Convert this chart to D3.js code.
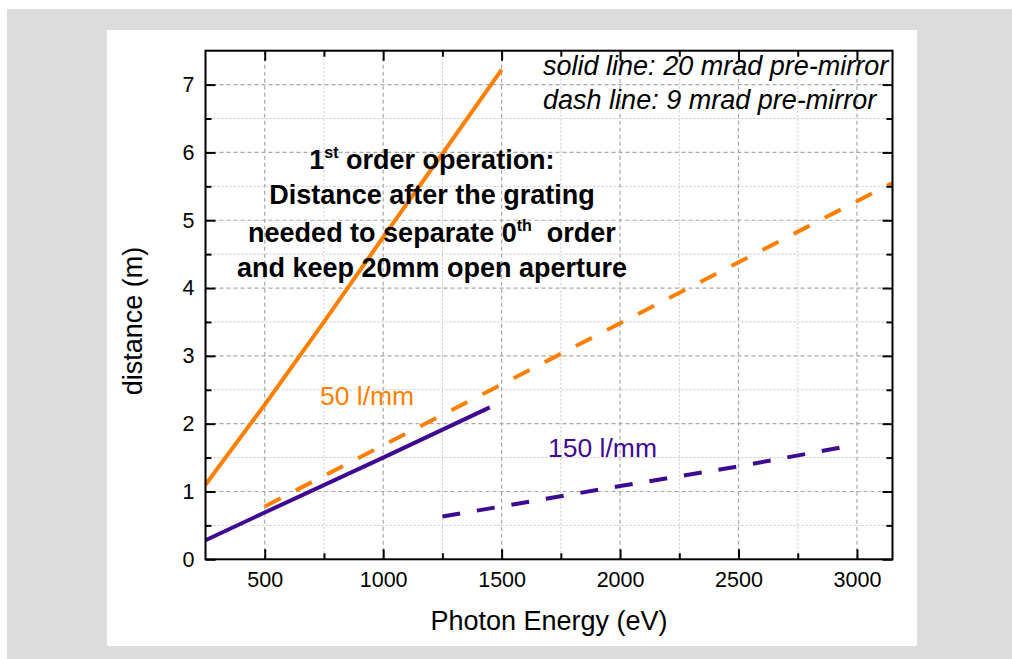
<!DOCTYPE html>
<html>
<head>
<meta charset="utf-8">
<script src="https://cdn.jsdelivr.net/npm/d3@7"></script>
<style>
  body { margin: 0; background: #fff; }
  text { font-family: "Liberation Sans", Arial, sans-serif; }
</style>
</head>
<body>
<div id="chart"></div>
<script>
// 50 l/mm grating, 20 mrad pre-mirror (solid)
const energy50Solid = [250, 500, 750, 1000, 1250, 1500];
const dist50Solid = [1.1, 2.28, 3.5, 4.75, 5.98, 7.22];
// 50 l/mm grating, 9 mrad pre-mirror (dashed)
const energy50Dash = [500, 1000, 1500, 2000, 2500, 3000, 3150];
const dist50Dash = [0.78, 1.68, 2.58, 3.48, 4.38, 5.28, 5.55];
// 150 l/mm grating, 20 mrad pre-mirror (solid)
const energy150Solid = [250, 500, 1000, 1450];
const dist150Solid = [0.28, 0.69, 1.5, 2.24];
// 150 l/mm grating, 9 mrad pre-mirror (dashed)
const energy150Dash = [1250, 1500, 2000, 2500, 2950];
const dist150Dash = [0.63, 0.78, 1.08, 1.37, 1.66];

const xTicks = [500, 1000, 1500, 2000, 2500, 3000];
const xMinorTicks = [750, 1250, 1750, 2250, 2750];
const yTicks = [0, 1, 2, 3, 4, 5, 6, 7];
const yMinorTicks = [0.5, 1.5, 2.5, 3.5, 4.5, 5.5, 6.5];

const orange = '#ff7f00';
const purple = '#3f0a92';

const W = 1012, H = 659;
const margin = { top: 50.7, right: 119.5, bottom: 99.7, left: 205.5 };
const width = W - margin.left - margin.right;
const height = H - margin.top - margin.bottom;

const svg = d3.select('#chart').append('svg')
    .attr('width', W)
    .attr('height', H);

// page background and white panel
svg.append('rect').attr('x', 7).attr('y', 9).attr('width', W - 7).attr('height', H - 9).attr('fill', '#dcdcdc');
svg.append('rect').attr('x', 107).attr('y', 30).attr('width', 810).attr('height', 616).attr('fill', '#fff');

const g = svg.append('g').attr('transform', `translate(${margin.left},${margin.top})`);

const x = d3.scaleLinear().domain([250, 3150]).range([0, width]);
const y = d3.scaleLinear().domain([0, 7.5]).range([height, 0]);

// grid
g.selectAll('.gx-minor').data(xMinorTicks).enter().append('line')
    .attr('x1', d => x(d)).attr('x2', d => x(d)).attr('y1', 0).attr('y2', height)
    .attr('stroke', '#c8c8c8').attr('stroke-width', 1).attr('stroke-dasharray', '2,2');
g.selectAll('.gy-minor').data(yMinorTicks).enter().append('line')
    .attr('y1', d => y(d)).attr('y2', d => y(d)).attr('x1', 0).attr('x2', width)
    .attr('stroke', '#c8c8c8').attr('stroke-width', 1).attr('stroke-dasharray', '2,2');
g.selectAll('.gx').data(xTicks).enter().append('line')
    .attr('x1', d => x(d)).attr('x2', d => x(d)).attr('y1', 0).attr('y2', height)
    .attr('stroke', '#a8a8a8').attr('stroke-width', 1.2).attr('stroke-dasharray', '4,3');
g.selectAll('.gy').data(yTicks.filter(d => d > 0)).enter().append('line')
    .attr('y1', d => y(d)).attr('y2', d => y(d)).attr('x1', 0).attr('x2', width)
    .attr('stroke', '#a8a8a8').attr('stroke-width', 1.2).attr('stroke-dasharray', '4,3');

// series
const line = d3.line().x(d => x(d[0])).y(d => y(d[1]));
const series = [
  { e: energy50Solid, v: dist50Solid, color: orange, dash: null },
  { e: energy50Dash, v: dist50Dash, color: orange, dash: '18,17' },
  { e: energy150Solid, v: dist150Solid, color: purple, dash: null },
  { e: energy150Dash, v: dist150Dash, color: purple, dash: '18,17' }
];
series.forEach(s => {
  g.append('path')
    .datum(d3.zip(s.e, s.v))
    .attr('d', line)
    .attr('fill', 'none')
    .attr('stroke', s.color)
    .attr('stroke-width', 4)
    .attr('stroke-dasharray', s.dash);
});

// axes with inward ticks
function styleAxis(sel) {
  sel.select('.domain').remove();
  sel.selectAll('line').attr('stroke', '#000').attr('stroke-width', 2);
  sel.selectAll('text').attr('font-size', 21.5).attr('fill', '#000')
    .attr('font-family', '"Liberation Sans", Arial, sans-serif');
}
g.append('g').attr('transform', `translate(0,${height})`)
    .call(d3.axisBottom(x).tickValues(xTicks).tickSizeInner(-10).tickSizeOuter(0).tickPadding(12).tickFormat(d3.format('d')))
    .call(styleAxis);
g.append('g').attr('transform', `translate(0,${height})`)
    .call(d3.axisBottom(x).tickValues(xMinorTicks).tickSize(-6).tickFormat(''))
    .call(styleAxis);
g.append('g')
    .call(d3.axisTop(x).tickValues(xTicks).tickSize(-10).tickFormat(''))
    .call(styleAxis);
g.append('g')
    .call(d3.axisTop(x).tickValues(xMinorTicks).tickSize(-6).tickFormat(''))
    .call(styleAxis);
g.append('g')
    .call(d3.axisLeft(y).tickValues(yTicks).tickSizeInner(-10).tickSizeOuter(0).tickPadding(11).tickFormat(d3.format('d')))
    .call(styleAxis);
g.append('g')
    .call(d3.axisLeft(y).tickValues(yMinorTicks).tickSize(-6).tickFormat(''))
    .call(styleAxis);
g.append('g').attr('transform', `translate(${width},0)`)
    .call(d3.axisRight(y).tickValues(yTicks).tickSize(-10).tickFormat(''))
    .call(styleAxis);
g.append('g').attr('transform', `translate(${width},0)`)
    .call(d3.axisRight(y).tickValues(yMinorTicks).tickSize(-6).tickFormat(''))
    .call(styleAxis);

// frame
g.append('rect').attr('width', width).attr('height', height)
    .attr('fill', 'none').attr('stroke', '#000').attr('stroke-width', 2);

// axis titles
svg.append('text')
    .attr('x', 549).attr('y', 630)
    .attr('text-anchor', 'middle').attr('font-size', 27)
    .text('Photon Energy (eV)');
svg.append('text')
    .attr('transform', `translate(142,${margin.top + height / 2 + 16}) rotate(-90)`)
    .attr('text-anchor', 'middle').attr('font-size', 27)
    .text('distance (m)');

// annotations
g.append('text').attr('x', x(1675)).attr('y', y(7.137))
    .attr('font-size', 27).attr('font-style', 'italic')
    .text('solid line: 20 mrad pre-mirror');
g.append('text').attr('x', x(1675)).attr('y', y(6.646))
    .attr('font-size', 27).attr('font-style', 'italic')
    .text('dash line: 9 mrad pre-mirror');

const note = g.append('text').attr('text-anchor', 'middle')
    .attr('font-size', 27).attr('font-weight', 'bold');
const cx = x(1206);
let t = note.append('tspan').attr('x', cx).attr('y', y(5.75));
t.append('tspan').text('1');
t.append('tspan').attr('font-size', 16).attr('dy', -11).text('st');
t.append('tspan').attr('dy', 11).text(' order operation:');
note.append('tspan').attr('x', cx).attr('y', y(5.236)).text('Distance after the grating');
t = note.append('tspan').attr('x', cx).attr('y', y(4.68));
t.append('tspan').text('needed to separate 0');
t.append('tspan').attr('font-size', 16).attr('dy', -11).text('th');
t.append('tspan').attr('dy', 11).text('\u00a0 order');
note.append('tspan').attr('x', cx).attr('y', y(4.165)).text('and keep 20mm open aperture');

g.append('text').attr('x', x(733)).attr('y', y(2.27))
    .attr('font-size', 26.5).attr('fill', orange).text('50 l/mm');
g.append('text').attr('x', x(1696)).attr('y', y(1.51))
    .attr('font-size', 26.5).attr('fill', purple).text('150 l/mm');
</script>
</body>
</html>
